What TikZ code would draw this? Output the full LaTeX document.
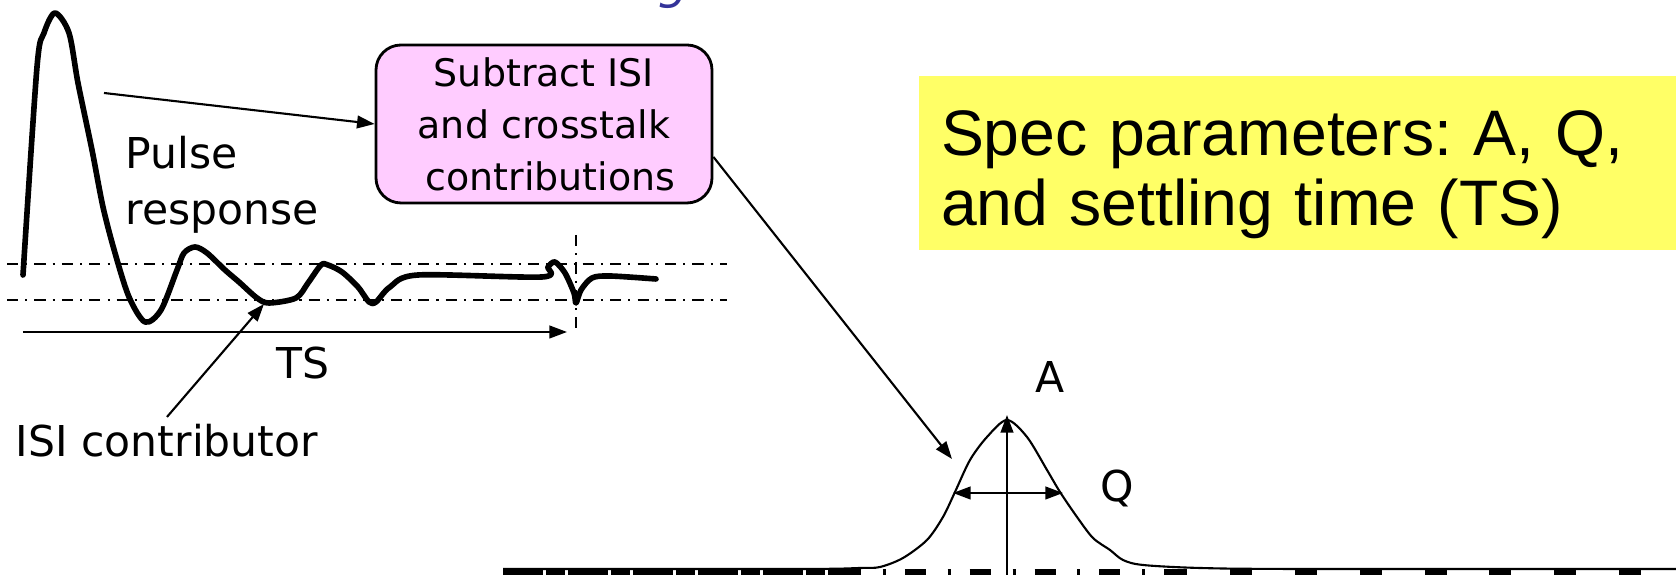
\documentclass[tikz,border=0pt]{standalone}
\usepackage{fontspec}
\setmainfont{DejaVu Sans}
\newfontfamily\specfont{Liberation Sans}
\usepackage{tikz}
\usetikzlibrary{arrows.meta, calc}
\usepackage{xcolor}
\definecolor{boxpink}{RGB}{255,204,255}
\definecolor{specyellow}{RGB}{255,255,102}
\definecolor{titleblue}{RGB}{51,51,153}
\frenchspacing

\begin{document}
\begin{tikzpicture}[>={Triangle[length=5pt,width=3.6pt]},
  lbl/.style={inner sep=0pt, font=\fontsize{12.1}{15.9}\selectfont},
  refline/.style={line width=0.7pt, dash pattern=on 3.2pt off 2pt on 0.6pt off 2pt},
  subbox/.style={draw, line width=0.8pt, fill=boxpink, rounded corners=0.25cm, minimum width=3.36cm, minimum height=1.58cm, align=center, font=\fontsize{10.8}{14.8}\selectfont},
  specbox/.style={fill=specyellow, minimum width=7.57cm, minimum height=1.72cm, text width=7.13cm, inner xsep=0.22cm, align=left, font=\specfont\fontsize{18.3}{19.9}\selectfont}]
  \useasboundingbox (0,0) rectangle (16.76,5.75);
  \clip (0,0) rectangle (16.76,5.75);
  % Title, cut off by the top edge
  \node[anchor=base east, inner sep=0pt, text=titleblue, font=\fontsize{13.8}{16}\selectfont\itshape] (title) at (8.26,5.76) {Use Measure Settling Time};
  % Pulse response
  \draw[line width=1.6pt, line join=round, line cap=round] plot[smooth, tension=0.5] coordinates {
    (0.23,3.00) (0.37,5.08) (0.44,5.42) (0.55,5.62) (0.69,5.42) (0.78,4.92)
    (0.92,4.25) (1.03,3.68) (1.15,3.22) (1.29,2.78) (1.45,2.53) (1.61,2.65)
    (1.77,3.05) (1.84,3.22) (1.95,3.28) (2.07,3.22) (2.25,3.05) (2.39,2.93)
    (2.57,2.77) (2.69,2.72) (2.96,2.77) (3.08,2.92) (3.21,3.10) (3.28,3.10)
    (3.42,3.03) (3.58,2.88) (3.69,2.73) (3.76,2.73) (3.90,2.88) (4.18,3.00)
    (5.42,2.98) (5.48,3.08) (5.55,3.13) (5.65,3.02) (5.74,2.82) (5.76,2.72)
    (5.81,2.85) (5.92,2.97) (6.10,2.99) (6.56,2.96)};
  % Settling band and settling instant
  \draw[refline] (0.07,3.11) -- (7.27,3.11);
  \draw[refline] (0.07,2.75) -- (7.27,2.75);
  \draw[refline] (5.76,3.40) -- (5.76,2.43);
  % Bottom bar
  \draw[line width=0.12cm, dash pattern=on 11.4pt off 0.85pt on 5.4pt off 0.85pt] (5.03,0) -- (8.40,0);
  \draw[line width=0.12cm, dash pattern=on 6pt off 6.2pt on 0.85pt off 5.4pt] (8.40,0) -- (11.65,0);
  \draw[line width=0.12cm, dash pattern=on 6.26pt off 12.2pt] (11.65,0) -- (16.76,0);
  % Isolated pulse after subtraction
  \draw[line width=0.6pt] plot[smooth, tension=0.5] coordinates {
    (5.03,0.06) (8.00,0.06) (8.60,0.07) (8.80,0.08) (9.03,0.17) (9.27,0.35)
    (9.43,0.58) (9.55,0.83) (9.70,1.15) (9.87,1.38) (10.07,1.55) (10.27,1.38)
    (10.47,1.05) (10.60,0.83) (10.77,0.58) (10.93,0.37) (11.10,0.25) (11.23,0.15)
    (11.43,0.10) (12.00,0.07) (13.00,0.06) (16.76,0.06)};
  % Labels
  \node[lbl, anchor=west, align=left] (pulse) at (1.25,3.90) {Pulse\\response};
  \node[lbl, anchor=base] (isi) at (1.67,1.18) {ISI contributor};
  \node[lbl] (ts) at (3.03,2.12) {TS};
  \node[subbox] (sub) at (5.44,4.51) {Subtract ISI\\and crosstalk\\\hspace*{0.33em}contributions};
  \node[specbox] (spec) at (12.975,4.12) {\rule{0pt}{19.4pt}Spec parameters: A, Q,\\and settling time (TS)};
  \node[lbl] (a) at (10.50,1.98) {A};
  \node[lbl] (q) at (11.17,0.87) {Q};
  % Arrow ends
  \coordinate (tail) at (1.04,4.82);
  \coordinate (dip) at (2.64,2.71);
  \coordinate (tsstart) at (0.23,2.43);
  \coordinate (tsend) at (5.67,2.43);
  \coordinate (gtip) at (9.52,1.16);
  \coordinate (gbase) at (10.07,0.0);
  \coordinate (gpeak) at (10.07,1.60);
  \coordinate (qleft) at (9.53,0.82);
  \coordinate (qright) at (10.63,0.82);
  \draw[->, semithick] (tail) -- (sub.west);
  \draw[->, semithick] (sub.-11) -- (gtip);
  \draw[->, semithick] ([yshift=2pt]isi.north) -- (dip);
  \draw[->, semithick] (tsstart) -- (tsend);
  \draw[->, semithick] (gbase) -- (gpeak);
  \draw[<->, semithick] (qleft) -- (qright);
\end{tikzpicture}
\end{document}
